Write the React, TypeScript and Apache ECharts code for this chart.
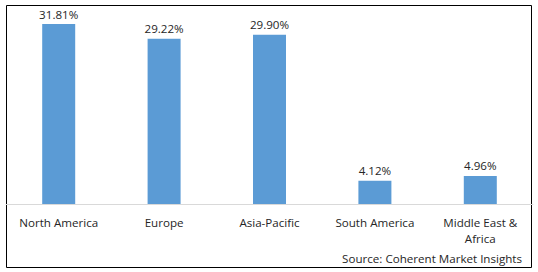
import React, { useEffect, useRef } from "react";
import * as echarts from "echarts";

const categories = ["North America", "Europe", "Asia-Pacific", "South America", "Middle East & Africa"];
const shares = [31.81, 29.22, 29.9, 4.12, 4.96];
const sourceText = "Source: Coherent Market Insights";

const FONT = "'Open Sans', 'Liberation Sans', sans-serif";
const TEXT = "#262626";

export default function App() {
  const ref = useRef<HTMLDivElement>(null);
  useEffect(() => {
    document.body.style.margin = "0";
    const chart = echarts.init(ref.current!, null, { renderer: "svg" });
    chart.setOption({
      animation: false,
      backgroundColor: "#ffffff",
      grid: { left: 6, right: 5, top: 6, bottom: 68, containLabel: false },
      xAxis: {
        type: "category",
        data: categories,
        axisLine: { lineStyle: { color: "#d9d9d9", width: 1 } },
        axisTick: { show: false },
        axisLabel: {
          interval: 0,
          color: TEXT,
          fontFamily: FONT,
          fontSize: 11.6,
          lineHeight: 16,
          margin: 10,
          formatter: (v: string) => v.replace(" & ", " &\n"),
        },
      },
      yAxis: {
        type: "value",
        min: 0,
        max: 35,
        show: false,
        splitLine: { show: false },
      },
      series: [
        {
          type: "bar",
          data: shares,
          barWidth: 33,
          itemStyle: { color: "#5b9bd5" },
          label: {
            show: true,
            position: "top",
            distance: 4,
            color: TEXT,
            fontFamily: FONT,
            fontSize: 11.6,
            formatter: (p: any) => p.value.toFixed(2) + "%",
          },
        },
      ],
      graphic: [
        {
          type: "rect",
          shape: { x: 6.5, y: 5.5, width: 525, height: 262 },
          style: { fill: "none", stroke: "#000000", lineWidth: 1 },
          silent: true,
        },
        {
          type: "text",
          x: 522,
          y: 258,
          style: {
            text: sourceText,
            align: "right",
            verticalAlign: "middle",
            fill: TEXT,
            font: `11.6px ${FONT}`,
          },
        },
      ],
    });
    return () => chart.dispose();
  }, []);
  return <div ref={ref} style={{ width: 538, height: 272, position: "absolute", left: 0, top: 0 }} />;
}
